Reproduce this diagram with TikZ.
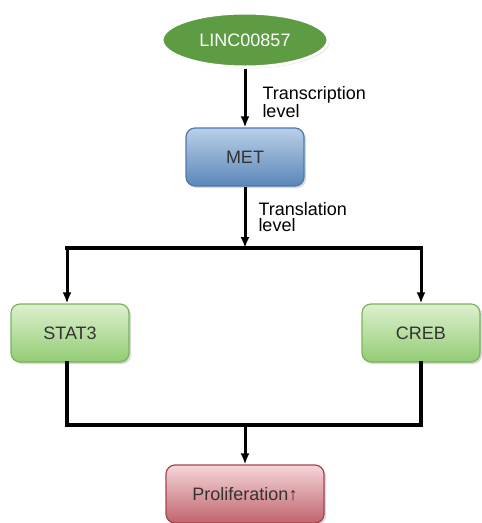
\documentclass[tikz,border=0pt]{standalone}
\usepackage{fontspec}
\setmainfont{Liberation Sans}
\usetikzlibrary{positioning,shapes.geometric,shadows,arrows.meta}

\definecolor{lincgreen}{HTML}{5E9C44}
\definecolor{metdark}{HTML}{5B86B8}
\definecolor{metlight}{HTML}{B9D0E8}
\definecolor{metline}{HTML}{4C79AE}
\definecolor{tfdark}{HTML}{93CC74}
\definecolor{tflight}{HTML}{DDF0CF}
\definecolor{tfline}{HTML}{78B45A}
\definecolor{prodark}{HTML}{C0646D}
\definecolor{prolight}{HTML}{F4D6D9}
\definecolor{proline}{HTML}{A6434C}

\begin{document}
\begin{tikzpicture}[x=1pt,y=1pt,node distance =115pt and 175pt ,on grid ,
font=\fontsize{18}{16}\selectfont,
lncrna/.style ={ellipse ,fill=lincgreen ,draw=white ,line width=3pt ,
  text=white ,minimum width=166pt ,minimum height=54pt ,
  drop shadow={opacity=0.35,shadow xshift=1.5pt,shadow yshift=-1.5pt}},
gene/.style ={rectangle ,rounded corners=9pt ,line width=1.2pt ,
  text=black!80 ,minimum height=58pt ,
  drop shadow={opacity=0.3,shadow xshift=2pt,shadow yshift=-2pt}},
metbox/.style ={gene ,top color=metlight ,bottom color=metdark ,draw=metline ,minimum width=118pt},
tfbox/.style ={gene ,top color=tflight ,bottom color=tfdark ,draw=tfline ,minimum width=118pt},
probox/.style ={gene ,top color=prolight ,bottom color=prodark ,draw=proline ,minimum width=158pt},
wire/.style ={line width=3.6pt ,line cap=rect},
arrow/.style ={line width=3pt ,-{Latex[length=11pt,width=9pt]}},
lbl/.style ={midway ,right ,align=left ,inner sep=0pt}
]
\useasboundingbox (0,0) rectangle (482,-523);

\node[lncrna] (linc) at (245,-40) {LINC00857};
\node[metbox] (met) [below=117pt of linc] {MET};
\node[tfbox] (stat) [below left=176pt and 175pt of met] {STAT3};
\node[tfbox] (creb) [below right=176pt and 176pt of met] {CREB};
\node[probox] (prolif) [below=337pt of met] {Proliferation↑};
\coordinate (split) at ([yshift=-91pt]met.center);
\coordinate (join) at ([yshift=69pt]prolif.center);
\coordinate (statin) at ([xshift=-3pt]stat.north);
\coordinate (statout) at ([xshift=-3pt]stat.south);

% transcription / translation
\draw[arrow] (linc) -- node[lbl ,xshift=16pt ,yshift=-4pt] {Transcription\\level} (met);
\draw[arrow] (met) -- node[lbl ,xshift=12pt] {Translation\\level} (split);

% branch to the two factors
\draw[wire] (statin |- split) -- (creb.north |- split);
\draw[arrow] (statin |- split) -- (statin);
\draw[arrow] (creb.north |- split) -- (creb.north);

% merge to proliferation
\draw[wire] (statout) |- (join) -| (creb.south);
\draw[arrow] (join) -- (prolif);
\end{tikzpicture}
\end{document}
